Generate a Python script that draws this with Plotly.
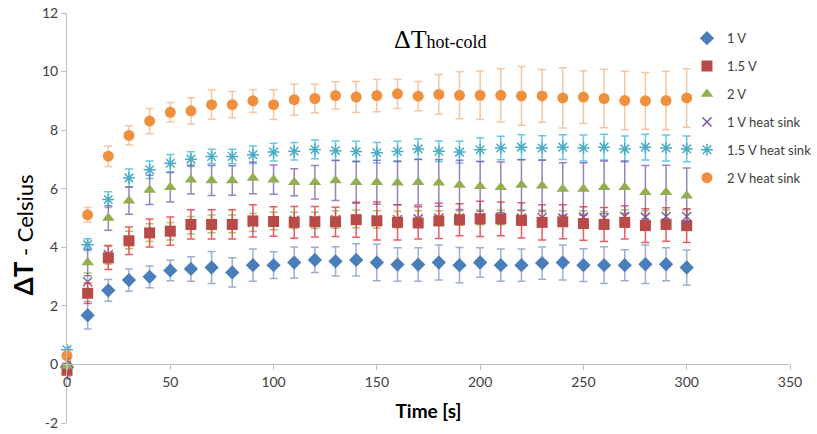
import plotly.graph_objects as go

time_s = [0, 10, 20, 30, 40, 50, 60, 70, 80, 90, 100, 110, 120, 130, 140, 150,
          160, 170, 180, 190, 200, 210, 220, 230, 240, 250, 260, 270, 280, 290, 300]

v1 = [-0.1, 1.68, 2.53, 2.88, 2.99, 3.21, 3.26, 3.31, 3.14, 3.39, 3.39, 3.48, 3.57, 3.52, 3.57, 3.48,
      3.41, 3.41, 3.48, 3.39, 3.48, 3.39, 3.39, 3.46, 3.48, 3.39, 3.39, 3.39, 3.42, 3.42, 3.31]
v1_err = [0.3, 0.47, 0.37, 0.38, 0.37, 0.35, 0.42, 0.55, 0.5, 0.55, 0.46, 0.53, 0.43, 0.5, 0.55, 0.62,
          0.57, 0.57, 0.6, 0.6, 0.5, 0.55, 0.55, 0.55, 0.6, 0.56, 0.63, 0.53, 0.66, 0.56, 0.6]

v15 = [-0.2, 2.43, 3.64, 4.22, 4.49, 4.55, 4.78, 4.78, 4.78, 4.9, 4.88, 4.85, 4.87, 4.87, 4.94, 4.9,
       4.85, 4.83, 4.9, 4.94, 4.97, 4.97, 4.92, 4.85, 4.87, 4.81, 4.78, 4.85, 4.74, 4.78, 4.74]
v15_err = [0.3, 0.35, 0.4, 0.47, 0.48, 0.48, 0.5, 0.5, 0.5, 0.55, 0.5, 0.54, 0.52, 0.5, 0.6, 0.65,
           0.6, 0.55, 0.6, 0.55, 0.6, 0.58, 0.6, 0.6, 0.58, 0.57, 0.58, 0.57, 0.58, 0.57, 0.58]

v2 = [-0.05, 3.48, 5.0, 5.59, 5.96, 6.05, 6.31, 6.28, 6.28, 6.37, 6.31, 6.22, 6.22, 6.28, 6.22, 6.22,
      6.2, 6.22, 6.2, 6.13, 6.08, 6.05, 6.13, 6.1, 5.99, 5.99, 6.05, 6.05, 5.88, 5.88, 5.76]
v2_err = [0.1, 0.45, 0.42, 0.46, 0.5, 0.5, 0.49, 0.51, 0.5, 0.54, 0.5, 0.46, 0.57, 0.68, 0.72, 0.75,
          0.75, 0.78, 0.8, 0.84, 0.85, 0.86, 0.86, 0.88, 0.9, 0.9, 0.9, 0.9, 0.91, 0.92, 0.95]

hs1 = [-0.1, 2.82, 3.75, 4.25, 4.5, 4.55, 4.75, 4.8, 4.8, 4.85, 4.9, 4.92, 4.92, 4.95, 4.97, 4.95,
       4.95, 4.97, 5.0, 5.0, 5.02, 5.02, 5.0, 5.02, 5.0, 5.03, 5.0, 5.05, 5.03, 5.05, 5.05]
hs1_err = [0.2, 0.3, 0.32, 0.3, 0.3, 0.3, 0.3, 0.3, 0.3, 0.3, 0.3, 0.28, 0.28, 0.3, 0.3, 0.3,
           0.28, 0.28, 0.25, 0.25, 0.25, 0.25, 0.25, 0.25, 0.25, 0.22, 0.22, 0.22, 0.22, 0.22, 0.22]

hs15 = [0.5, 4.09, 5.63, 6.37, 6.65, 6.87, 7.01, 7.1, 7.1, 7.16, 7.25, 7.28, 7.34, 7.3, 7.27, 7.23,
        7.27, 7.36, 7.28, 7.25, 7.33, 7.39, 7.42, 7.39, 7.42, 7.39, 7.42, 7.36, 7.42, 7.39, 7.36]
hs15_err = [0.1, 0.2, 0.27, 0.3, 0.3, 0.3, 0.25, 0.25, 0.25, 0.3, 0.3, 0.3, 0.32, 0.33, 0.35, 0.35,
            0.35, 0.35, 0.35, 0.37, 0.4, 0.4, 0.42, 0.42, 0.42, 0.44, 0.44, 0.44, 0.44, 0.44, 0.44]

hs2 = [0.3, 5.11, 7.11, 7.82, 8.31, 8.61, 8.66, 8.87, 8.87, 9.0, 8.87, 9.04, 9.08, 9.18, 9.13, 9.18,
       9.24, 9.16, 9.22, 9.19, 9.19, 9.19, 9.17, 9.17, 9.1, 9.13, 9.08, 9.01, 9.0, 9.01, 9.1]
hs2_err = [0.1, 0.25, 0.35, 0.33, 0.43, 0.33, 0.45, 0.5, 0.45, 0.39, 0.51, 0.53, 0.49, 0.47, 0.53, 0.55,
           0.5, 0.5, 0.68, 0.8, 0.83, 0.91, 1.0, 0.9, 1.03, 0.9, 1.0, 1.0, 0.97, 1.0, 1.0]

x_ticks = [0, 50, 100, 150, 200, 250, 300, 350]
y_ticks = [-2, 0, 2, 4, 6, 8, 10, 12]

FONT = "Lato, 'Open Sans', sans-serif"

# name, y, err, symbol, marker color, size, error bar color, legend rank
series = [
    ("1 V heat sink", hs1, hs1_err, "x-thin-open", "#8064A2", 9, "rgba(155,187,89,0.85)", 4),
    ("1.5 V heat sink", hs15, hs15_err, "asterisk-open", "#4BACC6", 10, "rgba(75,190,225,0.85)", 5),
    ("2 V heat sink", hs2, hs2_err, "circle", "#F0903F", 11, "rgba(240,160,100,0.6)", 6),
    ("1 V", v1, v1_err, "diamond", "#4A7EBB", 11, "rgba(74,110,170,0.55)", 1),
    ("1.5 V", v15, v15_err, "square", "#B84A48", 11, "rgba(230,50,55,0.8)", 2),
    ("2 V", v2, v2_err, "triangle-up", "#93AE50", 11, "rgba(120,85,165,0.75)", 3),
]

fig = go.Figure()
for name, ys, errs, sym, col, size, ecol, rank in series:
    open_marker = sym.endswith("open")
    marker = dict(symbol=sym, size=size, color=col)
    if open_marker:
        marker["line"] = dict(color=col, width=1.5)
    else:
        marker["line"] = dict(width=0)
    fig.add_trace(go.Scatter(
        x=time_s, y=ys, mode="markers", name=name,
        marker=marker,
        error_y=dict(type="data", array=errs, visible=True, color=ecol, thickness=1.5, width=4),
        legendrank=rank, legendgroup=name, cliponaxis=False,
    ))

fig.update_layout(
    width=817, height=434,
    margin=dict(l=67, r=27, t=13, b=11, autoexpand=False),
    paper_bgcolor="white", plot_bgcolor="white",
    font=dict(family=FONT, size=14, color="#404040"),
    showlegend=True,
    legend=dict(x=0.8575, y=0.975, xanchor="left", yanchor="top",
                bgcolor="rgba(0,0,0,0)", font=dict(size=13, color="#404040"),
                traceorder="grouped", tracegroupgap=8, itemwidth=30),
    xaxis=dict(range=[0, 350], tickvals=x_ticks, ticktext=[str(v) for v in x_ticks],
               anchor="free", position=2 / 14, showline=True, linecolor="#BFBFBF", linewidth=1,
               ticks="outside", ticklen=5, tickcolor="#BFBFBF", showgrid=False, zeroline=False,
               automargin=False,
               tickfont=dict(size=14, color="#404040"),
               title=dict(text="<b>Time [s]</b>", font=dict(size=19, color="#000000"), standoff=15)),
    yaxis=dict(range=[-2, 12], tickvals=y_ticks, ticktext=[str(v) for v in y_ticks],
               showline=True, linecolor="#BFBFBF", linewidth=1, ticks="outside", ticklen=5,
               tickcolor="#BFBFBF", showgrid=False, zeroline=False, automargin=False,
               tickfont=dict(size=14, color="#404040"),
               title=dict(text="<b><span style='font-size:26px'>ΔT</span></b> - Celsius" + "&nbsp;" * 6,
                          font=dict(size=22, color="#000000"), standoff=2)),
    annotations=[dict(
        x=0.516, y=0.935, xref="paper", yref="paper", showarrow=False,
        xanchor="center", yanchor="middle",
        text="<span style='font-size:26px'>ΔT</span><span style='font-size:18px'>hot-cold</span>",
        font=dict(family="'Liberation Serif', 'Times New Roman', serif", color="#000000"),
    )],
)

fig.write_html("out.html", config={"displayModeBar": False},
               post_script="document.body.style.margin='0';")
